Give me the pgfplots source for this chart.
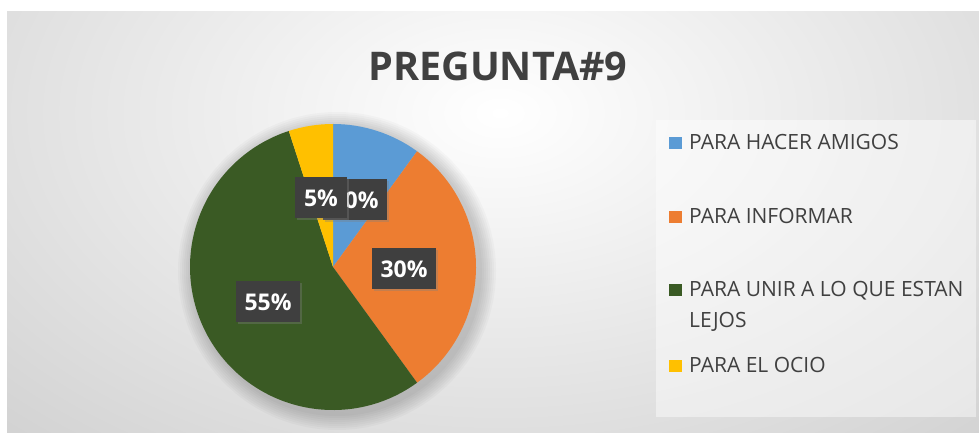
\documentclass[border=0pt]{standalone}
\usepackage{pgfplots}
\pgfplotsset{compat=1.18}
\usepackage{pgfplotstable}
\usepackage{fontspec}
\setmainfont{Open Sans}
\usetikzlibrary{shadows}
\definecolor{c1}{HTML}{5B9BD5}
\definecolor{c2}{HTML}{ED7D31}
\definecolor{c3}{HTML}{3A5A24}
\definecolor{c4}{HTML}{FFC000}
\definecolor{txt}{HTML}{404040}
\definecolor{lbl}{HTML}{3F3F3F}

\pgfplotstableread{
value color
10 c1
30 c2
55 c3
5 c4
}\piedata

\begin{document}
\begin{tikzpicture}[x=1pt,y=1pt]
\useasboundingbox (0,0) rectangle (979,433);
% background
\fill[white] (0,0) rectangle (979,433);
\begin{scope}
\clip (7,0) rectangle (979,421);
\fill[black!22] (7,0) rectangle (979,421);
\shade[inner color=white, outer color=black!22] (500,320) ellipse (900 and 560);
\end{scope}
% legend box
\fill[white, opacity=0.45] (656,16) rectangle (976,313);

\begin{axis}[
  at={(0,0)}, anchor=origin,
  x=1pt, y=1pt,
  xmin=0, xmax=979, ymin=0, ymax=433,
  hide axis, clip=false,
]
% soft shadow of the pie
\pgfplotsforeachungrouped \k in {1,...,8}{%
  \edef\temp{\noexpand\fill[black, opacity=0.025] (axis cs:337,162) circle[radius=\the\numexpr143+2*\k\relax pt];}\temp
}
\pgfplotstablegetrowsof{\piedata}
\pgfmathtruncatemacro\N{\pgfplotsretval-1}
\def\cum{0}
\pgfplotsforeachungrouped \i in {0,...,\N}{%
  \pgfplotstablegetelem{\i}{value}\of\piedata \let\v\pgfplotsretval
  \pgfplotstablegetelem{\i}{color}\of\piedata \let\c\pgfplotsretval
  \pgfmathsetmacro\a{90-3.6*\cum}
  \pgfmathsetmacro\b{90-3.6*(\cum+\v)}
  \edef\temp{\noexpand\fill[\c] (axis cs:333,166) -- ++(\a:143pt) arc[start angle=\a, end angle=\b, radius=143pt] -- cycle;}
  \temp
  \pgfmathsetmacro\cum{\cum+\v}
}
% data labels
\tikzset{plbl/.style={fill=lbl, text=white, font=\fontsize{23}{23}\selectfont\bfseries,
  inner xsep=9pt, minimum height=41pt,
  drop shadow={shadow xshift=2pt, shadow yshift=-2pt, opacity=0.35}}}
\node[plbl] at (axis cs:355,233) {10\%};
\node[plbl] at (axis cs:321,235) {5\%};
\node[plbl] at (axis cs:404,164) {30\%};
\node[plbl] at (axis cs:268,131) {55\%};
\end{axis}

% title
\node[anchor=base, text=txt, font=\fontsize{39.5}{39.5}\selectfont\bfseries] at (498,352) {PREGUNTA\#9};

% legend
\tikzset{leg/.style={anchor=base west, text=txt, font=\fontsize{21}{21}\selectfont, inner sep=0pt}}
\fill[c1] (669,284) rectangle (682,296);
\node[leg] at (689,283) {PARA HACER AMIGOS};
\fill[c2] (669,210) rectangle (682,222);
\node[leg] at (689,209) {PARA INFORMAR};
\fill[c3] (669,137) rectangle (682,149);
\node[leg] at (689,136) {PARA UNIR A LO QUE ESTAN};
\node[leg] at (689,105) {LEJOS};
\fill[c4] (669,61) rectangle (682,73);
\node[leg] at (689,60) {PARA EL OCIO};
\end{tikzpicture}
\end{document}
